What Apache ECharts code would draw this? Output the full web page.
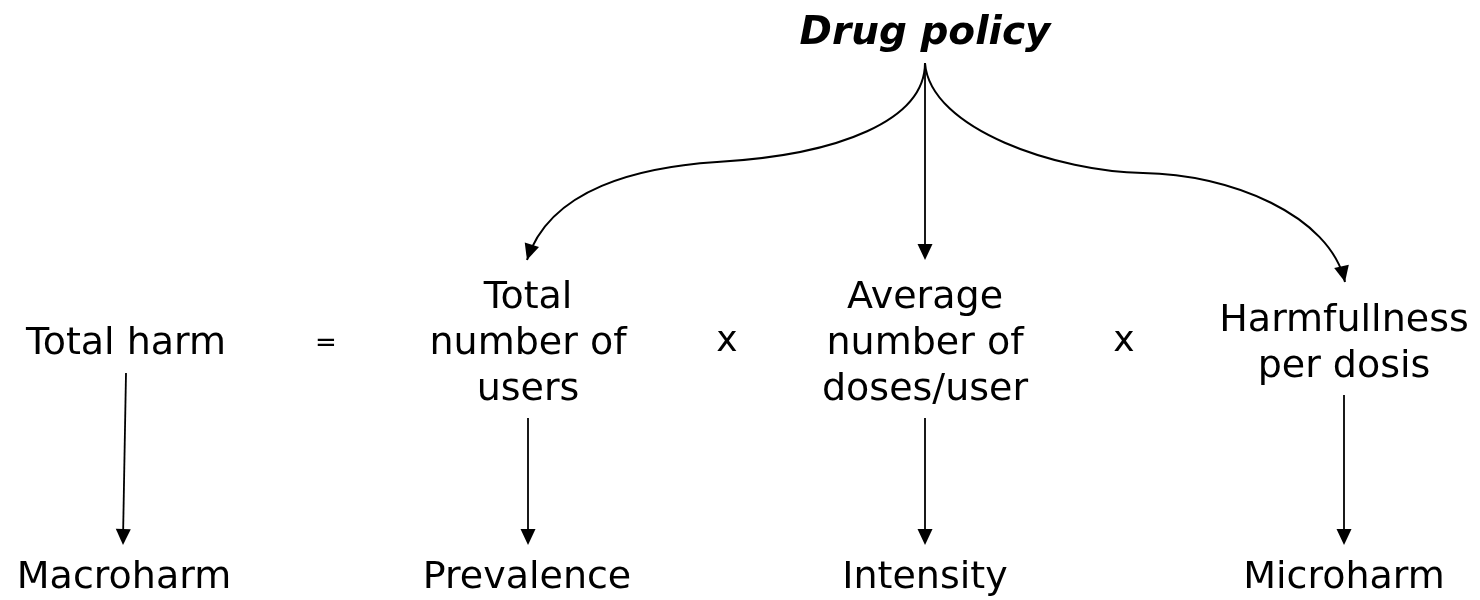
<!DOCTYPE html>
<html>
<head>
<meta charset="utf-8">
<title>Drug policy</title>
<script src="https://cdn.jsdelivr.net/npm/echarts@6/dist/echarts.min.js"></script>
<style>
    html, body { margin: 0; padding: 0; background: #fff; }
    #chart { width: 1480px; height: 600px; }
</style>
</head>
<body>
<div id="chart"></div>
<script>
// diagram points live in a 1480 x 600 space, y grows downward
var titleName = ['Drug policy']
var titleX = [925]
var titleY = [34]

var factorNames = ['Total harm', 'Total\nnumber of\nusers', 'Average\nnumber of\ndoses/user', 'Harmfullness\nper dosis']
var factorX = [126, 528, 925, 1344]
var factorY = [344, 344, 344, 344]

var operatorNames = ['=', 'x', 'x']
var operatorX = [326, 727, 1124]
var operatorY = [344, 342, 342]

var outcomeNames = ['Macroharm', 'Prevalence', 'Intensity', 'Microharm']
var outcomeX = [124, 527, 925, 1344]
var outcomeY = [578, 578, 578, 578]

// straight arrows: [fromX, fromY, toX, toY]
var straightArrows = [
    [925, 63, 925, 260],
    [126, 373, 123, 545],
    [528, 418, 528, 545],
    [925, 418, 925, 545],
    [1344, 395, 1344, 545]
]

// curved arrows: two cubic pieces each
var curvedArrows = [
    [[925, 63], [925, 120], [840, 155], [717, 162], [640, 167], [550, 188], [527, 260]],
    [[925, 63], [930, 130], [1060, 172], [1143, 173], [1230, 174], [1330, 215], [1345, 282]]
]

var myChart = echarts.init(document.getElementById('chart'), null, { renderer: 'canvas' })

function arrowHead(tip, from) {
    var dx = tip[0] - from[0]
    var dy = tip[1] - from[1]
    var len = Math.sqrt(dx * dx + dy * dy)
    var ux = dx / len
    var uy = dy / len
    var headLen = 16
    var half = 7.5
    var bx = tip[0] - ux * headLen
    var by = tip[1] - uy * headLen
    return [
        [tip[0], tip[1]],
        [bx - uy * half, by + ux * half],
        [bx + uy * half, by - ux * half]
    ]
}

// one custom series per text group, drawn as plain text elements
function textSeries(name, names, xs, ys, font) {
    return {
        name: name,
        type: 'custom',
        silent: true,
        data: names.map(function(n, i) { return [xs[i], ys[i]] }),
        renderItem: function(params, api) {
            var p = api.coord([api.value(0), api.value(1)])
            var f = typeof font === 'function' ? font(params.dataIndex) : font
            return {
                type: 'text',
                x: p[0],
                y: p[1],
                style: {
                    text: names[params.dataIndex],
                    fill: '#000',
                    font: f,
                    align: 'center',
                    verticalAlign: 'middle',
                    lineHeight: 46
                }
            }
        }
    }
}

var baseFont = '38px "DejaVu Sans"'

var option = {
    animation: false,
    grid: { left: 0, right: 0, top: 0, bottom: 0 },
    xAxis: { type: 'value', min: 0, max: 1480, show: false },
    yAxis: { type: 'value', min: 0, max: 600, inverse: true, show: false },
    series: [
        {
            name: 'straight',
            type: 'custom',
            silent: true,
            data: straightArrows,
            renderItem: function(params, api) {
                var a = api.coord([api.value(0), api.value(1)])
                var b = api.coord([api.value(2), api.value(3)])
                return {
                    type: 'group',
                    children: [
                        {
                            type: 'line',
                            shape: { x1: a[0], y1: a[1], x2: b[0], y2: b[1] - 6 },
                            style: { stroke: '#000', lineWidth: 1.8 }
                        },
                        {
                            type: 'polygon',
                            shape: { points: arrowHead(b, a) },
                            style: { fill: '#000' }
                        }
                    ]
                }
            }
        },
        {
            name: 'curved',
            type: 'custom',
            silent: true,
            data: curvedArrows.map(function(c, i) { return [i] }),
            renderItem: function(params, api) {
                var pts = curvedArrows[params.dataIndex].map(function(p) { return api.coord(p) })
                var n = pts.length
                return {
                    type: 'group',
                    children: [
                        {
                            type: 'path',
                            shape: {
                                pathData: 'M' + pts[0].join(',') +
                                    'C' + pts[1].join(',') + ' ' + pts[2].join(',') + ' ' + pts[3].join(',') +
                                    'C' + pts[4].join(',') + ' ' + pts[5].join(',') + ' ' + pts[6].join(',')
                            },
                            style: { stroke: '#000', fill: null, lineWidth: 2 }
                        },
                        {
                            type: 'polygon',
                            shape: { points: arrowHead(pts[n - 1], pts[n - 2]) },
                            style: { fill: '#000' }
                        }
                    ]
                }
            }
        },
        textSeries('title', titleName, titleX, titleY, 'italic bold 39px "DejaVu Sans"'),
        textSeries('factors', factorNames, factorX, factorY, baseFont),
        textSeries('operators', operatorNames, operatorX, operatorY, function(i) {
            return i === 0 ? '26px "DejaVu Sans"' : '36px "DejaVu Sans"'
        }),
        textSeries('outcomes', outcomeNames, outcomeX, outcomeY, baseFont)
    ]
}

myChart.setOption(option)

window.addEventListener('resize', function() {
    myChart.resize()
})
</script>
</body>
</html>
